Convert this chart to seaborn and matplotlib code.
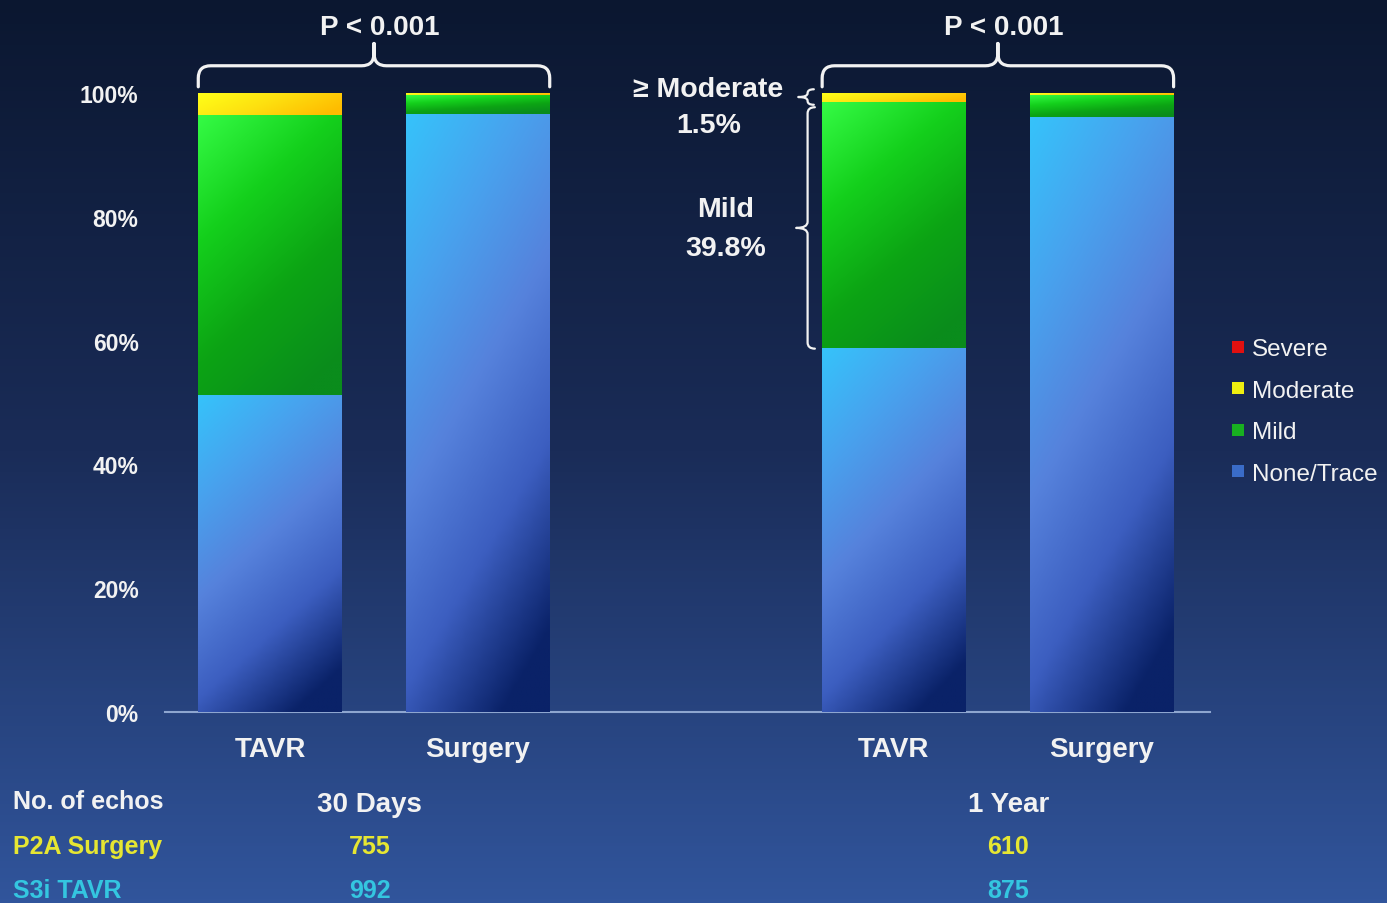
import matplotlib

matplotlib.use("Agg")

import matplotlib.pyplot as plt
import numpy as np
import pandas as pd
import seaborn as sns
from matplotlib.colors import LinearSegmentedColormap
from matplotlib.lines import Line2D
from matplotlib.path import Path
from matplotlib.patches import PathPatch
from matplotlib.transforms import blended_transform_factory

# data (percent of echos)
bar_keys = ["30d TAVR", "30d Surgery", "1y TAVR", "1y Surgery"]
bar_labels = ["TAVR", "Surgery", "TAVR", "Surgery"]
none_trace = [51.2, 96.6, 58.7, 96.0]
mild = [45.1, 3.0, 39.8, 3.6]
moderate = [3.7, 0.2, 1.4, 0.3]
severe = [0.0, 0.2, 0.1, 0.1]

levels = ["Severe", "Moderate", "Mild", "None/Trace"]
timepoints = ["30 Days", "1 Year"]
echo_groups = ["P2A Surgery", "S3i TAVR"]
echo_counts = {"P2A Surgery": [755, 610], "S3i TAVR": [992, 875]}
p_values = ["P < 0.001", "P < 0.001"]

# category order with an empty slot between the two time points
order = ["30d TAVR", "30d Surgery", "", "1y TAVR", "1y Surgery"]

WHITE = "#f2f2f2"
level_colors = {"Severe": "#e01010", "Moderate": "#eeee10",
                "Mild": "#18b020", "None/Trace": "#3a6cc8"}
level_stops = {
    "None/Trace": ["#36c2fa", "#48a2ee", "#5682dc", "#3c5ec0", "#0a2268"],
    "Mild": ["#34fa44", "#14d01c", "#0ca414", "#0a8c1c"],
    "Moderate": ["#ffff18", "#fde010", "#ffbc00"],
    "Severe": ["#ff3010", "#c80000"],
}

df = pd.DataFrame({"key": bar_keys, "None/Trace": none_trace, "Mild": mild,
                   "Moderate": moderate, "Severe": severe})
df["c_none"] = df["None/Trace"]
df["c_mild"] = df["c_none"] + df["Mild"]
df["c_mod"] = df["c_mild"] + df["Moderate"]
df["c_sev"] = df["c_mod"] + df["Severe"]

sns.set_theme(style="white")
plt.rcParams["font.family"] = ["Liberation Sans", "DejaVu Sans"]

W, H = 1387, 904
fig = plt.figure(figsize=(W / 100, H / 100), dpi=100)

# slide background gradient
bg = fig.add_axes([0, 0, 1, 1], zorder=-10)
bg_cmap = LinearSegmentedColormap.from_list("bg", ["#0b1730", "#1a2c58", "#31559c"])
bg.imshow(np.linspace(0, 1, 256)[:, None], aspect="auto", cmap=bg_cmap,
          extent=[0, 1, 0, 1], origin="upper")
bg.set_axis_off()

ax = fig.add_axes([165 / W, (H - 713) / H, (1210 - 165) / W, (713 - 94) / H])
ax.set_facecolor("none")

# stacked bars: draw cumulative totals from the top level down
cum_cols = [("c_sev", "Severe"), ("c_mod", "Moderate"), ("c_mild", "Mild"), ("c_none", "None/Trace")]
bar_patches = {}
for col, lvl in cum_cols:
    n_before = len(ax.patches)
    sns.barplot(data=df, x="key", y=col, order=order, color=level_colors[lvl],
                width=0.69, saturation=1, ax=ax, linewidth=0, zorder=2)
    bar_patches[lvl] = ax.patches[n_before:]

# gradient shading for each visible segment
lower = {"None/Trace": None, "Mild": "c_none", "Moderate": "c_mild", "Severe": "c_mod"}
upper = {"None/Trace": "c_none", "Mild": "c_mild", "Moderate": "c_mod", "Severe": "c_sev"}
weights = {"None/Trace": (0.78, 0.32), "Mild": (0.75, 0.35),
           "Moderate": (0.3, 0.8), "Severe": (0.3, 0.8)}
vv, hh = np.mgrid[0:1:80j, 0:1:40j]
for lvl in levels:
    cmap = LinearSegmentedColormap.from_list(lvl, level_stops[lvl])
    wv, wh = weights[lvl]
    img = cmap(np.clip(wv * vv + wh * hh, 0, 1))
    for p, (_, row) in zip(bar_patches[lvl], df.iterrows()):
        y0 = 0 if lower[lvl] is None else row[lower[lvl]]
        y1 = row[upper[lvl]]
        if y1 - y0 <= 0:
            continue
        x0 = p.get_x()
        ax.imshow(img, extent=[x0, x0 + p.get_width(), y0, y1], origin="upper",
                  aspect="auto", interpolation="bilinear", zorder=3)

ax.set_xlim(-0.505, 4.52)
ax.set_ylim(0, 100)

tick_pos = [order.index(k) for k in bar_keys]
ax.set_xticks(tick_pos)
ax.set_xticklabels(bar_labels, fontsize=20, fontweight="bold", color=WHITE)
ax.set_yticks(np.arange(0, 101, 20))
ax.set_yticklabels([f"{v}%" for v in range(0, 101, 20)], fontsize=16.5,
                   fontweight="bold", color=WHITE)
ax.tick_params(axis="x", length=0, pad=17)
ax.tick_params(axis="y", length=0, pad=19)
ax.set_xlabel("")
ax.set_ylabel("")
sns.despine(ax=ax, left=True)
ax.spines["bottom"].set_color("#8ea6d0")
ax.spines["bottom"].set_linewidth(1.5)


def hbrace(ax, x0, x1, y, drop, tip, rx, ry, lw=2.3):
    xc = (x0 + x1) / 2
    verts = [(x0, y - drop), (x0, y - ry), (x0, y), (x0 + rx, y),
             (xc - rx, y), (xc, y), (xc, y + ry), (xc, y + tip),
             (xc, y + ry), (xc, y), (xc + rx, y),
             (x1 - rx, y), (x1, y), (x1, y - ry), (x1, y - drop)]
    codes = [Path.MOVETO, Path.LINETO, Path.CURVE3, Path.CURVE3,
             Path.LINETO, Path.CURVE3, Path.CURVE3, Path.LINETO,
             Path.LINETO, Path.CURVE3, Path.CURVE3,
             Path.LINETO, Path.CURVE3, Path.CURVE3, Path.LINETO]
    ax.add_patch(PathPatch(Path(verts, codes), fc="none", ec=WHITE, lw=lw,
                           clip_on=False, capstyle="round", joinstyle="round"))


def vbrace(ax, x, y0, y1, hook, tip, rx, ry, lw=1.6):
    ym = (y0 + y1) / 2
    verts = [(x + hook, y0), (x, y0), (x, y0 + ry),
             (x, ym - ry), (x, ym), (x - tip, ym),
             (x, ym), (x, ym + ry),
             (x, y1 - ry), (x, y1), (x + hook, y1)]
    codes = [Path.MOVETO, Path.CURVE3, Path.CURVE3,
             Path.LINETO, Path.CURVE3, Path.CURVE3,
             Path.CURVE3, Path.CURVE3,
             Path.LINETO, Path.CURVE3, Path.CURVE3]
    ax.add_patch(PathPatch(Path(verts, codes), fc="none", ec=WHITE, lw=lw,
                           clip_on=False, capstyle="round", joinstyle="round"))


# P-value braces over each time point
half = 0.69 / 2
for i, pv in enumerate(p_values):
    a, b = tick_pos[2 * i], tick_pos[2 * i + 1]
    hbrace(ax, a - half, b + half, 104.4, 3.4, 3.6, 0.06, 2.0)
    ax.text((a + b) / 2 + 0.03, 110.6, pv, ha="center", va="center",
            fontsize=20, fontweight="bold", color=WHITE, clip_on=False)

# side annotation on 1-year TAVR
k = bar_keys.index("1y TAVR")
row = df.iloc[k]
xb = tick_pos[k] - half - 0.07
vbrace(ax, xb, row["c_none"], row["c_mild"] - 0.8, 0.035, 0.055, 0.03, 1.0)
vbrace(ax, xb, row["c_mild"] - 0.4, 100.6, 0.03, 0.045, 0.02, 0.6)
ax.text(2.106, 100.6, "\u2265 Moderate", ha="center", va="center", fontsize=20.5,
        fontweight="bold", color=WHITE, clip_on=False)
ax.text(2.11, 94.8, f"{row['Moderate'] + row['Severe']:.1f}%", ha="center",
        va="center", fontsize=20.5, fontweight="bold", color=WHITE)
ax.text(2.19, 81.2, "Mild", ha="center", va="center", fontsize=20.5,
        fontweight="bold", color=WHITE)
ax.text(2.19, 75.0, f"{row['Mild']:.1f}%", ha="center", va="center",
        fontsize=20.5, fontweight="bold", color=WHITE)

# legend
handles = [Line2D([], [], ls="none", marker="s", markersize=8, markeredgewidth=0,
                  color=level_colors[lvl]) for lvl in levels]
leg = fig.legend(handles, levels, loc="upper left", bbox_to_anchor=(1219 / W, 1 - 327 / H),
                 frameon=False, fontsize=17.5, handlelength=0.6, handletextpad=0.25,
                 labelspacing=0.8, borderpad=0)
for t in leg.get_texts():
    t.set_color(WHITE)

# number of echos table under the chart
tr = blended_transform_factory(ax.transData, fig.transFigure)
group_x = [0.48, 3.55]


def fy(py):
    return 1 - py / H


fig.text(13 / W, fy(802), "No. of echos", ha="left", va="center", fontsize=18,
         fontweight="bold", color=WHITE)
text_colors = {"P2A Surgery": "#e6e632", "S3i TAVR": "#34c6e0"}
row_y = {"P2A Surgery": 847, "S3i TAVR": 891}
for g in echo_groups:
    fig.text(13 / W, fy(row_y[g]), g, ha="left", va="center", fontsize=18,
             fontweight="bold", color=text_colors[g])
for i, tp in enumerate(timepoints):
    ax.text(group_x[i], fy(805), tp, transform=tr, ha="center", va="center",
            fontsize=20, fontweight="bold", color=WHITE)
    for g in echo_groups:
        ax.text(group_x[i], fy(row_y[g]), str(echo_counts[g][i]), transform=tr,
                ha="center", va="center", fontsize=18, fontweight="bold",
                color=text_colors[g])

fig.savefig("out.png", dpi=100, facecolor=fig.get_facecolor())
